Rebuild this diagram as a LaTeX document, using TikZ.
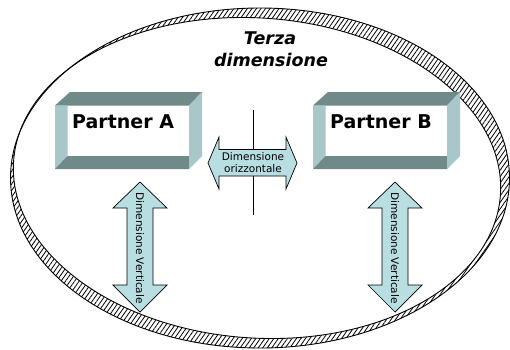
\documentclass[tikz,border=0pt]{standalone}
\usepackage{fontspec}
\setmainfont{DejaVu Sans}
\usetikzlibrary{patterns.meta}
\definecolor{bevdark}{HTML}{708989}
\definecolor{bevlight}{HTML}{A7C7C9}
\definecolor{arrfill}{HTML}{B9DEE2}
\tikzset{
  ringhatch/.style={pattern={Lines[angle=55,distance=3.7pt,line width=0.8pt]}},
  ringline/.style={draw=black,line width=0.9pt},
  arrowshape/.style={fill=arrfill,draw=black,line width=0.7pt,line join=miter},
  titletext/.style={anchor=base,font=\bfseries\itshape\fontsize{17.5}{21}\selectfont},
  partnertext/.style={anchor=base west,font=\bfseries\fontsize{19}{23}\selectfont,inner sep=0pt},
  smalltext/.style={font=\fontsize{10.5}{12.7}\selectfont,inner sep=0pt},
}
\newcommand{\bevelbox}[1]{%
  \begin{scope}[xshift=#1pt]
    % L=0, R=147, T=92, B=169, li=12.5, ri=134, ti=105.5, bi=156
    \fill[bevdark] (15,92) -- (147,92) -- (134,105.5) -- (0,105.5) -- cycle;
    \fill[bevlight] (0,105.5) -- (12.5,105.5) -- (12.5,156) -- (0,169) -- cycle;
    \fill[bevdark] (0,169) -- (12.5,156) -- (134,156) -- (134,169) -- cycle;
    \fill[bevlight] (134,105.5) -- (147,92) -- (147,156) -- (134,169) -- cycle;
  \end{scope}}
\begin{document}
\begin{tikzpicture}[x=1pt,y=-1pt]
\useasboundingbox (0,0) rectangle (510,349);
% ring
\path[ringhatch] (260,178) ellipse [x radius=249.5,y radius=170];
\draw[ringline,fill=white,rotate around={-4:(257,178)}] (257,178) ellipse [x radius=244,y radius=160];
\draw[ringline] (260,178) ellipse [x radius=249.5,y radius=170];
% title
\node[titletext] (terza1) at (270,44) {Terza};
\node[titletext] (terza2) at (271,66) {dimensione};
% boxes
\bevelbox{55}
\bevelbox{313}
\node[partnertext] (pa) at (72,128) {Partner A};
\node[partnertext] (pb) at (330,128) {Partner B};
% vertical line
\coordinate (lt) at (253,110);
\coordinate (lb) at (253,215);
\draw[line width=0.8pt] (lt) -- (lb);
% horizontal double arrow
\draw[arrowshape] (208,163) -- (219,137) -- (219,149.5) -- (286,149.5) -- (286,137) -- (297,163)
  -- (286,189) -- (286,176) -- (219,176) -- (219,189) -- cycle;
\node[smalltext,anchor=base] (h1) at (253,160) {Dimensione};
\node[smalltext,anchor=base] (h2) at (253,172.7) {orizzontale};
% vertical double arrows
\foreach \cx/\nm in {140/va,395/vb}{
  \draw[arrowshape] (\cx,182) -- (\cx+27,208) -- (\cx+13,208) -- (\cx+13,285) -- (\cx+27,285) -- (\cx,312)
    -- (\cx-27,285) -- (\cx-13,285) -- (\cx-13,208) -- (\cx-27,208) -- cycle;
  \node[smalltext,rotate=-90] (\nm) at (\cx,248) {Dimensione Verticale};
}
\end{tikzpicture}
\end{document}
